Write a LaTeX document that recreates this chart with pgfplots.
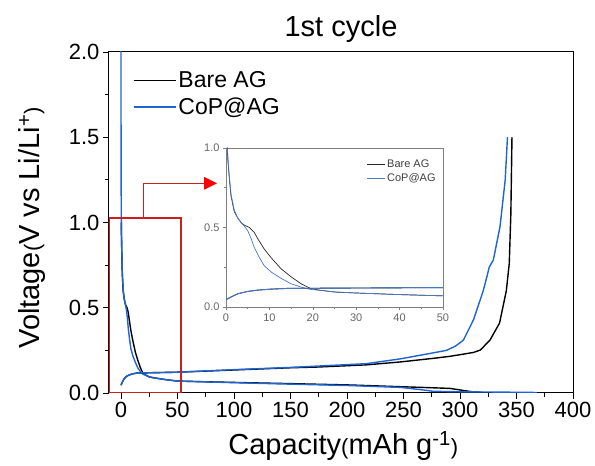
\documentclass[border=0pt]{standalone}
\usepackage{pgfplots}
\pgfplotsset{compat=1.18}
\usepackage{pgfplotstable}
\usepackage{fontspec}
\setmainfont{Liberation Sans}
\definecolor{mainblue}{RGB}{30,100,210}
\definecolor{insetblue}{RGB}{70,120,200}
\definecolor{insetblack}{RGB}{40,40,40}
\definecolor{redline}{RGB}{205,30,30}

\pgfplotstableread{
x y
0.3 1.0
0.4 0.93
0.8 0.80
1.15 0.70
1.9 0.60
2.7 0.56
3.5 0.53
4.2 0.515
5.4 0.50
6.5 0.47
7.3 0.43
8.8 0.365
10.4 0.31
12.7 0.24
15 0.19
17.3 0.146
19.6 0.115
21.9 0.105
25 0.094
30 0.088
40 0.078
50 0.07
80 0.065
114 0.06
150 0.055
203 0.047
247 0.037
270 0.032
291 0.027
303 0.015
310 0.008
320 0.003
}\bareDis

\pgfplotstableread{
x y
0 0.046
1.15 0.0625
2.7 0.083
5 0.098
7.3 0.106
10.4 0.1125
14.2 0.117
20 0.118
50 0.122
100 0.135
150 0.148
173 0.152
217 0.165
247 0.182
276 0.203
291 0.215
303 0.228
312 0.238
318 0.252
326.5 0.31
335 0.41
341 0.6
343.6 0.76
345 1.05
346 1.5
}\bareCha

\pgfplotstableread{
x y
0 2.05
0.1 1.3
0.3 1.0
0.7 0.84
1.15 0.71
1.9 0.61
2.7 0.56
3.5 0.53
4.2 0.51
5 0.48
5.8 0.43
6.5 0.375
7.7 0.31
8.8 0.26
10.4 0.22
12.7 0.18
15 0.146
17.3 0.125
19.6 0.11
21.9 0.104
25 0.095
30 0.088
40 0.078
50 0.07
114 0.058
150 0.052
200 0.044
247 0.033
265 0.02
276 0.01
300 0.007
340 0.005
368 0.003
}\copDis

\pgfplotstableread{
x y
0 0.046
1.15 0.063
2.7 0.083
5 0.098
7.3 0.106
10.4 0.1125
14.2 0.117
20 0.118
50 0.122
100 0.137
150 0.15
217 0.172
247 0.2
273.5 0.232
288 0.25
296 0.275
303 0.31
312 0.43
320.6 0.6
326 0.74
329.5 0.78
335.4 0.975
340 1.25
342 1.5
}\copCha

\begin{document}
\begin{tikzpicture}
\useasboundingbox (0,0) rectangle (595pt,466pt);
\begin{axis}[
  at={(109pt,73pt)}, anchor=south west,
  scale only axis, width=464pt, height=341pt,
  xmin=-10.6, xmax=400, ymin=0, ymax=2,
  xtick={0,50,...,400}, ytick={0,0.5,...,2},
  minor x tick num=1, minor y tick num=1,
  tick align=outside, xtick pos=bottom, ytick pos=left,
  major tick length=6pt, minor tick length=4pt,
  every tick/.style={black, line width=0.8pt},
  axis line style={line width=1pt},
  /pgf/number format/assume math mode=true,
  tick label style={font=\fontsize{22}{24}\selectfont},
  yticklabel style={/pgf/number format/.cd, fixed, fixed zerofill, precision=1},
  xticklabel style={/pgf/number format/.cd, fixed},
  title={1st cycle},
  title style={font=\fontsize{29}{32}\selectfont, at={(axis description cs:0.5,1)}, anchor=base, yshift=9pt},
  xlabel={Capacity{\fontsize{22}{24}\selectfont(}mAh g\textsuperscript{-1}{\fontsize{22}{24}\selectfont)}},
  xlabel style={font=\fontsize{29}{32}\selectfont, at={(axis description cs:0.505,0)}, anchor=base, yshift=-62pt},
  ylabel={Voltage{\fontsize{22}{24}\selectfont(}V vs Li/Li\textsuperscript{+}{\fontsize{22}{24}\selectfont)}},
  ylabel style={font=\fontsize{29}{32}\selectfont, at={(axis description cs:0,0.484)}, anchor=base, yshift=69pt},
  legend style={at={(axis description cs:0.045,0.955)}, anchor=north west, draw=none, fill=none,
    font=\fontsize{23}{26}\selectfont, row sep=5pt},
  legend cell align=left,
  legend image code/.code={\draw[#1] (0pt,0pt) -- (42pt,0pt);},
]
\addplot[black, line width=1.4pt] table[x=x,y=y] {\bareDis};
\addlegendentry{Bare AG}
\addplot[mainblue, line width=1.4pt] table[x=x,y=y] {\copDis};
\addlegendentry{CoP@AG}
\addplot[black, line width=1.4pt, forget plot] table[x=x,y=y] {\bareCha};
\addplot[mainblue, line width=1.4pt, forget plot] table[x=x,y=y] {\copCha};
\draw[draw=redline, line width=1.5pt] (axis cs:-10.6,0) rectangle (axis cs:53,1.026)
  (axis cs:20,1.026) -- (axis cs:20,1.23) -- (axis cs:74,1.23);
\fill[fill=red] (axis cs:85,1.23) -- ++(-13pt,6.5pt) -- ++(0pt,-13pt) -- cycle;
\end{axis}

\begin{axis}[
  at={(226pt,159pt)}, anchor=south west,
  scale only axis, width=217pt, height=159pt,
  xmin=0, xmax=50, ymin=0, ymax=1,
  xtick={0,10,...,50}, ytick={0,0.5,1},
  minor x tick num=1, minor y tick num=1,
  tick align=outside, xtick pos=bottom, ytick pos=left,
  major tick length=3pt, minor tick length=2pt,
  every tick/.style={gray, line width=0.5pt},
  axis line style={gray, line width=0.6pt},
  axis background/.style={fill=white},
  /pgf/number format/assume math mode=true,
  tick label style={font=\fontsize{11}{12}\selectfont, text=black!60},
  yticklabel style={/pgf/number format/.cd, fixed, fixed zerofill, precision=1},
  legend style={at={(axis description cs:0.99,0.95)}, anchor=north east, draw=none, fill=none,
    font=\fontsize{11}{12}\selectfont, text=black!75, row sep=0pt},
  legend cell align=left,
  legend image code/.code={\draw[#1] (0pt,0pt) -- (18pt,0pt);},
]
\addplot[insetblack, line width=0.7pt] table[x=x,y=y] {\bareDis};
\addlegendentry{Bare AG}
\addplot[insetblue, line width=0.7pt] table[x=x,y=y] {\copDis};
\addlegendentry{CoP@AG}
\addplot[insetblack, line width=0.9pt, forget plot] table[x=x,y=y] {\bareCha};
\addplot[insetblue, line width=0.9pt, forget plot] table[x=x,y=y] {\copCha};
\end{axis}
\end{tikzpicture}
\end{document}
